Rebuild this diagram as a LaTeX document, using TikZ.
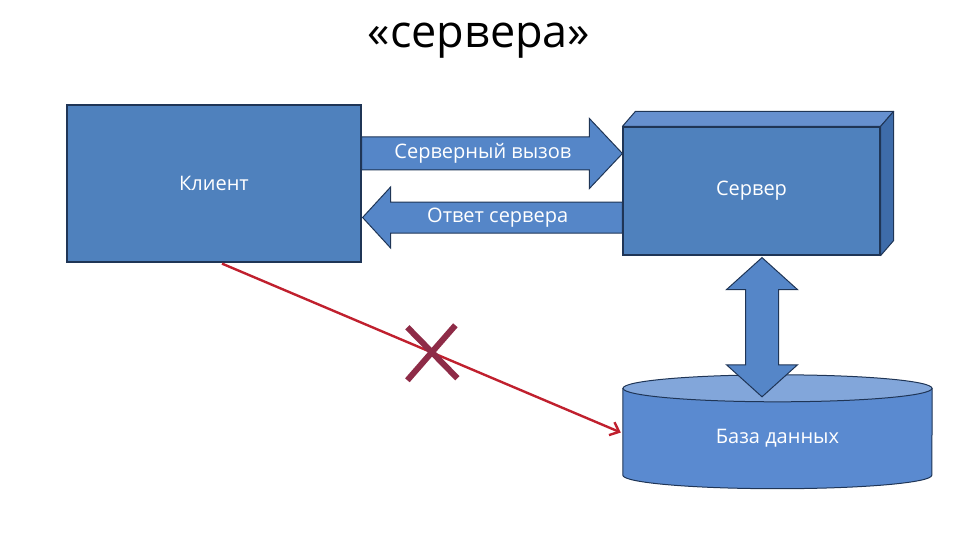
\documentclass[tikz,border=0pt]{standalone}
\usepackage{fontspec}
\setmainfont{Open Sans}
\usetikzlibrary{arrows.meta,calc,backgrounds}
\definecolor{cbox}{HTML}{4F81BD}
\definecolor{cedge}{HTML}{1F3556}
\definecolor{carrow}{HTML}{5586C8}
\definecolor{ctop}{HTML}{6690CF}
\definecolor{cside}{HTML}{3E6CAA}
\definecolor{cbody}{HTML}{5A8AD0}
\definecolor{cdbtop}{HTML}{82A6DA}
\definecolor{cno}{HTML}{C0202E}
\definecolor{ccross}{HTML}{8E2B47}
\tikzset{
  box/.style={draw=cedge,line width=1.2pt,fill=cbox,text=white,font=\fontsize{20}{24}\selectfont},
  face/.style={draw=cedge,line width=1pt,line join=round},
  blk/.style={draw=cedge,line width=1pt,fill=carrow,line join=miter},
  lbl/.style={text=white,font=\fontsize{20}{24}\selectfont,inner sep=0pt},
  >=Stealth
}

\begin{document}
\begin{tikzpicture}[x=1pt,y=-1pt,
    cyl/.style={draw=cedge,line width=1pt},
    noway/.style={draw=cno,line width=2.4pt,-{Straight Barb[length=8pt,width=14pt]}},
    cross/.style={draw=ccross,line width=6pt}]
  \useasboundingbox (0,0) rectangle (960,540);
  \node[font=\fontsize{45}{54}\selectfont,anchor=base] (title) at (479,48) {«сервера»};
  \node[box,minimum width=294pt,minimum height=157pt] (client) at (214,183.5) {Клиент};
  \node[box,minimum width=257pt,minimum height=128pt] (server) at (751.5,191) {Сервер};
  % server depth
  \draw[face,fill=ctop] (server.north west) -- ++(13,-15) -- ($(server.north east)+(13,-15)$) -- (server.north east) -- cycle;
  \draw[face,fill=cside] (server.north east) -- ++(13,-15) -- ($(server.south east)+(13,-15)$) -- (server.south east) -- cycle;
  % database
  \node[lbl,minimum width=309pt,minimum height=73pt] (db) at (777.5,438.5) {База данных};
  \begin{scope}[on background layer]
    \draw[cyl,fill=cbody] ($(db.north west)+(0,-13.5)$) -- (db.south west)
      arc[start angle=180,end angle=0,x radius=154.5,y radius=13.5] -- ($(db.north east)+(0,-13.5)$) -- cycle;
    \draw[cyl,fill=cdbtop] ($(db.north)+(0,-13.5)$) ellipse[x radius=154.5,y radius=13.5];
  \end{scope}
  \coordinate (callA) at ($(client.east)+(0,-30)$);
  \coordinate (callB) at ($(server.west)+(0,-37.5)$);
  \coordinate (replyA) at ($(server.west)+(0,26.5)$);
  \coordinate (replyB) at ($(client.east)+(1,34)$);
  \coordinate (linkA) at ($(server.south)+(10.5,2)$);
  \coordinate (linkB) at ($(db.north)+(-15.5,-5)$);
  % block arrows
  \draw[blk] ($(callA)+(0,-16.5)$) -- ($(callB)+(-33,-16.5)$) -- ++(0,-18.5) -- (callB)
    -- ($(callB)+(-33,35)$) -- ++(0,-18.5) -- ($(callA)+(0,16.5)$) -- cycle;
  \node[lbl] (callTxt) at ($(callA)!0.465!(callB)$) {Серверный вызов};
  \draw[blk] ($(replyA)+(0,-15.5)$) -- ($(replyB)+(28,-15.5)$) -- ++(0,-15) -- (replyB)
    -- ($(replyB)+(28,30.5)$) -- ++(0,-15) -- ($(replyA)+(0,15.5)$) -- cycle;
  \node[lbl] (replyTxt) at ($(replyB)!0.52!(replyA)$) {Ответ сервера};
  \draw[blk] (linkA) -- ($(linkA)+(35.5,32)$) -- ++(-19,0) -- ($(linkB)+(16.5,-32)$) -- ++(19,0) -- (linkB)
    -- ($(linkB)+(-35.5,-32)$) -- ++(19,0) -- ($(linkA)+(-16.5,32)$) -- ++(-19,0) -- cycle;
  % forbidden direct access
  \draw[noway] ($(client.south)+(8,1)$) -- coordinate[pos=0.525] (stop) ($(db.west)+(-2,-6)$);
  \draw[cross] ($(stop)+(-24,-25)$) -- ($(stop)+(26,26)$);
  \draw[cross] ($(stop)+(24,-27)$) -- ($(stop)+(-24,28)$);
\end{tikzpicture}
\end{document}
